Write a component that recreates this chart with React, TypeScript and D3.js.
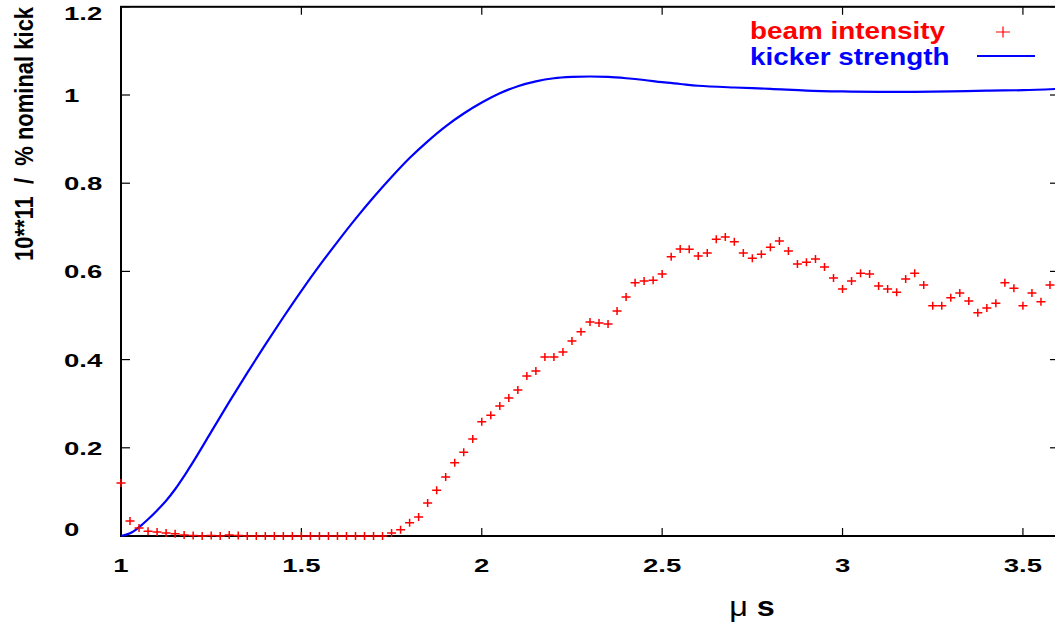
import React from "react";
import * as d3 from "d3";

// beam intensity (10**11) sampled every 0.025 µs
const beamTime = [
  1.0, 1.025, 1.05, 1.075, 1.1, 1.125, 1.15, 1.175, 1.2, 1.225, 1.25, 1.275, 1.3, 1.325, 1.35, 1.375,
  1.4, 1.425, 1.45, 1.475, 1.5, 1.525, 1.55, 1.575, 1.6, 1.625, 1.65, 1.675, 1.7, 1.725, 1.75, 1.775,
  1.8, 1.825, 1.85, 1.875, 1.9, 1.925, 1.95, 1.975, 2.0, 2.025, 2.05, 2.075, 2.1, 2.125, 2.15, 2.175,
  2.2, 2.225, 2.25, 2.275, 2.3, 2.325, 2.35, 2.375, 2.4, 2.425, 2.45, 2.475, 2.5, 2.525, 2.55, 2.575,
  2.6, 2.625, 2.65, 2.675, 2.7, 2.725, 2.75, 2.775, 2.8, 2.825, 2.85, 2.875, 2.9, 2.925, 2.95, 2.975,
  3.0, 3.025, 3.05, 3.075, 3.1, 3.125, 3.15, 3.175, 3.2, 3.225, 3.25, 3.275, 3.3, 3.325, 3.35, 3.375,
  3.4, 3.425, 3.45, 3.475, 3.5, 3.525, 3.55, 3.575,
];
const beamValue = [
  0.12, 0.034, 0.018, 0.011, 0.009, 0.007, 0.005, 0.002, 0.001, 0.0, 0.001, 0.0, 0.002, 0.001, 0.0, 0.0,
  0.0, 0.0, 0.0, 0.0, 0.0, 0.0, 0.0, 0.0, 0.0, 0.0, 0.0, 0.0, 0.0, 0.0, 0.007, 0.014,
  0.03, 0.043, 0.075, 0.104, 0.134, 0.166, 0.19, 0.22, 0.259, 0.274, 0.295, 0.313, 0.331, 0.363, 0.374, 0.406,
  0.406, 0.417, 0.442, 0.463, 0.485, 0.483, 0.481, 0.51, 0.542, 0.574, 0.578, 0.58, 0.594, 0.633, 0.651, 0.65,
  0.635, 0.642, 0.673, 0.678, 0.667, 0.642, 0.63, 0.639, 0.655, 0.669, 0.646, 0.617, 0.621, 0.628, 0.61, 0.585,
  0.56, 0.578, 0.596, 0.594, 0.567, 0.56, 0.553, 0.583, 0.596, 0.569, 0.522, 0.522, 0.54, 0.551, 0.533, 0.506,
  0.517, 0.528, 0.574, 0.562, 0.522, 0.551, 0.531, 0.569,
];

// kicker strength (fraction of nominal kick)
const kickTime = [
  1.0, 1.025, 1.05, 1.075, 1.1, 1.125, 1.15, 1.175, 1.2, 1.25, 1.3, 1.35, 1.4, 1.45, 1.5, 1.55,
  1.6, 1.65, 1.7, 1.75, 1.8, 1.85, 1.9, 1.95, 2.0, 2.05, 2.1, 2.15, 2.2, 2.25, 2.3, 2.35,
  2.4, 2.45, 2.5, 2.55, 2.6, 2.7, 2.8, 2.9, 3.0, 3.1, 3.2, 3.3, 3.4, 3.5, 3.6,
];
const kickValue = [
  0.0, 0.006, 0.02, 0.038, 0.058, 0.08, 0.106, 0.136, 0.168, 0.236, 0.304, 0.37, 0.434, 0.496, 0.556, 0.613,
  0.667, 0.719, 0.768, 0.814, 0.857, 0.895, 0.929, 0.958, 0.983, 1.004, 1.02, 1.031, 1.038, 1.041, 1.042, 1.041,
  1.038, 1.034, 1.029, 1.025, 1.021, 1.017, 1.014, 1.01, 1.008, 1.007, 1.007, 1.008, 1.01, 1.011, 1.014,
];

const xTicks = [1, 1.5, 2, 2.5, 3, 3.5];
const xTickLabels = ["1", "1.5", "2", "2.5", "3", "3.5"];
const yTicks = [0, 0.2, 0.4, 0.6, 0.8, 1, 1.2];
const yTickLabels = ["0", "0.2", "0.4", "0.6", "0.8", "1", "1.2"];
const legendLabels = ["beam intensity", "kicker strength"];
const yAxisTitle = "10**11  /  % nominal kick";

const W = 1055;
const H = 627;
const FONT = "'Liberation Sans', Arial, Helvetica, sans-serif";

export default function App() {
  const x = d3.scaleLinear().domain([1, 3.6]).range([121, 1059]);
  const y = d3.scaleLinear().domain([0, 1.2]).range([536, 6.8]);

  const kick = kickTime.map((t, i) => [t, kickValue[i]] as [number, number]);
  const line = d3
    .line<[number, number]>()
    .x((d) => x(d[0]))
    .y((d) => y(d[1]))
    .curve(d3.curveCatmullRom.alpha(0.5));

  const x0 = x(1), x1 = x(3.6), y0 = y(0), y1 = y(1.2);

  return (
    <svg
      width={W}
      height={H}
      style={{ position: "absolute", left: 0, top: 0, background: "#fff" }}
      fontFamily={FONT}
    >
      <rect x={0} y={0} width={W} height={H} fill="#fff" />
      {/* frame */}
      <rect x={x0} y={y1} width={x1 - x0} height={y0 - y1} fill="none" stroke="#000" strokeWidth={2} />
      {/* y ticks */}
      {yTicks.map((v, i) => (
        <g key={"yt" + i}>
          <line x1={x0} x2={x0 + 9} y1={y(v)} y2={y(v)} stroke="#000" strokeWidth={1.2} />
          <line x1={x1 - 9} x2={x1} y1={y(v)} y2={y(v)} stroke="#000" strokeWidth={1.2} />
          <text
            transform={`translate(64,${Math.min(Math.max(y(v), 13), 529) + 7}) scale(1.45,1)`}
            fontSize={19}
            fontWeight="bold"
            textAnchor="start"
            fill="#000"
          >
            {yTickLabels[i]}
          </text>
        </g>
      ))}
      {/* x ticks */}
      {xTicks.map((v, i) => (
        <g key={"xt" + i}>
          <line x1={x(v)} x2={x(v)} y1={y0} y2={y0 - 8} stroke="#000" strokeWidth={1.2} />
          <line x1={x(v)} x2={x(v)} y1={y1} y2={y1 + 8} stroke="#000" strokeWidth={1.2} />
          <text
            transform={`translate(${x(v)},572) scale(1.45,1)`}
            fontSize={19}
            fontWeight="bold"
            textAnchor="middle"
            fill="#000"
          >
            {xTickLabels[i]}
          </text>
        </g>
      ))}
      {/* kicker strength */}
      <path d={line(kick) || ""} fill="none" stroke="#0000ff" strokeWidth={2.2} />
      {/* beam intensity */}
      {beamTime.map((t, i) => (
        <path
          key={"b" + i}
          transform={`translate(${x(t)},${y(beamValue[i])})`}
          d="M-4.5,0H4.5M0,-4V4"
          stroke="#ff0000"
          strokeWidth={1.5}
          fill="none"
        />
      ))}
      {/* legend */}
      <text transform="translate(750,39) scale(1.16,1)" fontSize={24} fontWeight="bold" fill="#ff0000">
        {legendLabels[0]}
      </text>
      <path transform="translate(1003,32)" d="M-7,0H7M0,-5.5V5.5" stroke="#ff0000" strokeWidth={1.2} fill="none" />
      <text transform="translate(750,65) scale(1.16,1)" fontSize={24} fontWeight="bold" fill="#0000ff">
        {legendLabels[1]}
      </text>
      <line x1={977} x2={1035} y1={56} y2={56} stroke="#0000ff" strokeWidth={2} />
      {/* axis titles */}
      <text
        transform="translate(33,134) rotate(-90) scale(1,1.2)"
        fontSize={22}
        fontWeight="bold"
        textAnchor="middle"
        fill="#000"
        style={{ whiteSpace: "pre" }}
      >
        {yAxisTitle}
      </text>
      <text transform="translate(752,616) scale(1.2,1)" fontSize={27} textAnchor="middle" fill="#000">
        <tspan fontWeight="normal">μ</tspan>
        <tspan fontWeight="bold"> s</tspan>
      </text>
    </svg>
  );
}
